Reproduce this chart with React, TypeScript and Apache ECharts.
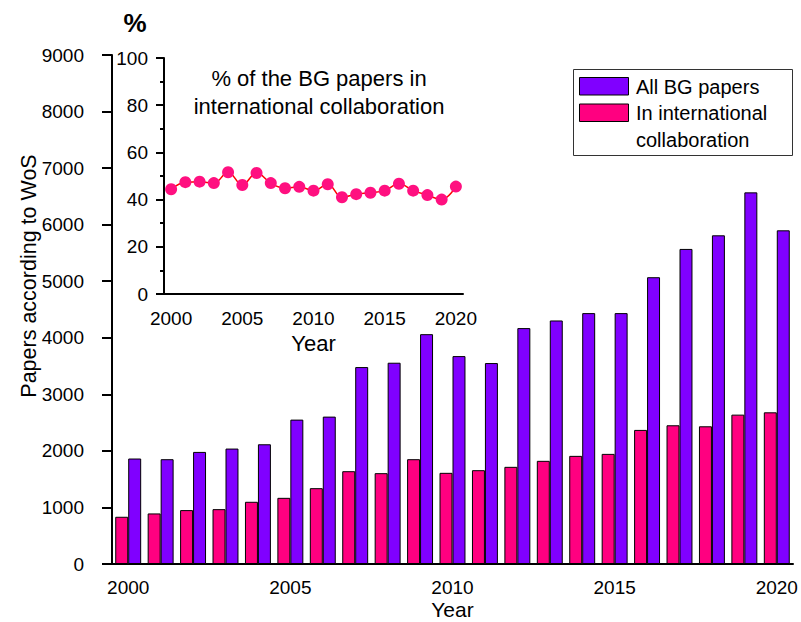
import React, { useEffect, useRef } from "react";
import * as echarts from "echarts";

const years = ["2000","2001","2002","2003","2004","2005","2006","2007","2008","2009","2010","2011","2012","2013","2014","2015","2016","2017","2018","2019","2020"];
const allPapers = [1865, 1853, 1982, 2041, 2117, 2553, 2606, 3482, 3559, 4064, 3676, 3553, 4171, 4306, 4436, 4436, 5071, 5571, 5812, 6571, 5900];
const intlPapers = [835, 894, 953, 970, 1100, 1170, 1341, 1641, 1606, 1853, 1612, 1659, 1718, 1824, 1912, 1947, 2371, 2453, 2435, 2641, 2682];
const intlPercent = [44.4, 47.4, 47.6, 47.0, 51.6, 46.2, 51.3, 47.0, 44.8, 45.4, 43.8, 46.5, 41.0, 42.3, 42.9, 43.8, 46.7, 43.8, 41.9, 40.0, 45.5];
const seriesNames = ["All BG papers", "In international collaboration"];
const legendLines = ["All BG papers", "In international", "collaboration"];
const insetTitle = "% of the BG papers in\ninternational collaboration";

const PURPLE = "#8000ff";
const PINK = "#ff0080";
const FONT = "Liberation Sans, Arial, sans-serif";

export default function App() {
  const ref = useRef<HTMLDivElement>(null);
  useEffect(() => {
    if (!ref.current) return;
    const chart = echarts.init(ref.current, null, { renderer: "svg" });
    const lbl = { color: "#000", fontFamily: FONT, fontSize: 19 };
    const plain = (v: number) => String(v);
    const option: any = {
      animation: false,
      backgroundColor: "#fff",
      textStyle: { fontFamily: FONT, color: "#000" },
      grid: [
        { left: 112, top: 55, right: 8, bottom: 58, outerBoundsMode: "none", containLabel: false },
        { left: 164, top: 58, width: 299, height: 236, outerBoundsMode: "none", containLabel: false },
      ],
      xAxis: [
        {
          type: "category", gridIndex: 0, position: "bottom", data: years, boundaryGap: true,
          axisLine: { lineStyle: { color: "#000", width: 2 } },
          axisTick: { alignWithLabel: true, interval: 0, length: 5, lineStyle: { color: "#000", width: 2 } },
          axisLabel: { ...lbl, interval: 4, margin: 14 },
          splitLine: { show: false },
          name: "Year", nameLocation: "middle", nameGap: 35, nameMoveOverlap: false,
          nameTextStyle: { fontFamily: FONT, fontSize: 21, lineHeight: 21, color: "#000" },
        },
        {
          type: "category", gridIndex: 0, position: "bottom", data: years, boundaryGap: true,
          axisLine: { show: false },
          axisTick: { alignWithLabel: true, interval: 4, length: 10, lineStyle: { color: "#000", width: 2 } },
          axisLabel: { show: false },
          splitLine: { show: false },
        },
        {
          type: "category", gridIndex: 1, position: "bottom", data: years, boundaryGap: true,
          axisLine: { lineStyle: { color: "#000", width: 2 } },
          axisTick: { alignWithLabel: true, interval: 0, length: 5, lineStyle: { color: "#000", width: 2 } },
          axisLabel: { ...lbl, interval: 4, margin: 15 },
          splitLine: { show: false },
          name: "Year", nameLocation: "middle", nameGap: 38, nameMoveOverlap: false,
          nameTextStyle: { fontFamily: FONT, fontSize: 22, lineHeight: 22, color: "#000" },
        },
        {
          type: "category", gridIndex: 1, position: "bottom", data: years, boundaryGap: true,
          axisLine: { show: false },
          axisTick: { alignWithLabel: true, interval: 4, length: 8, lineStyle: { color: "#000", width: 2 } },
          axisLabel: { show: false },
          splitLine: { show: false },
        },
      ],
      yAxis: [
        {
          type: "value", gridIndex: 0, min: 0, max: 9000, interval: 1000,
          axisLine: { show: true, lineStyle: { color: "#000", width: 2 } },
          axisTick: { show: true, length: 10, lineStyle: { color: "#000", width: 2 } },
          axisLabel: { ...lbl, margin: 28, formatter: plain },
          splitLine: { show: false },
        },
        {
          type: "value", gridIndex: 1, min: 0, max: 100, interval: 20,
          axisLine: { show: true, lineStyle: { color: "#000", width: 2 } },
          axisTick: { show: true, length: 8, lineStyle: { color: "#000", width: 2 } },
          minorTick: { show: true, splitNumber: 2, length: 4, lineStyle: { color: "#000", width: 2 } },
          axisLabel: { ...lbl, margin: 16, formatter: plain },
          splitLine: { show: false },
          minorSplitLine: { show: false },
        },
      ],
      series: [
        {
          name: seriesNames[1], type: "bar", xAxisIndex: 0, yAxisIndex: 0, data: intlPapers,
          barGap: "0%", barCategoryGap: "20%",
          itemStyle: { color: PINK, borderColor: "#000", borderWidth: 1 },
        },
        {
          name: seriesNames[0], type: "bar", xAxisIndex: 0, yAxisIndex: 0, data: allPapers,
          barGap: "0%", barCategoryGap: "20%",
          itemStyle: { color: PURPLE, borderColor: "#000", borderWidth: 1 },
        },
        {
          name: "% international", type: "line", xAxisIndex: 2, yAxisIndex: 1, data: intlPercent,
          smooth: 0.4, symbol: "circle", symbolSize: 12, showAllSymbol: true,
          lineStyle: { color: "#ff0000", width: 1.5 },
          itemStyle: { color: "#ff1080" },
          z: 5,
        },
      ],
      graphic: [
        {
          type: "text", silent: true,
          x: 29, y: 276, rotation: Math.PI / 2,
          style: { text: "Papers according to WoS", fontFamily: FONT, fontSize: 21.5, fill: "#000", textAlign: "center", textVerticalAlign: "middle" },
        },
        {
          type: "text", x: 135, y: 23, silent: true,
          style: { text: "%", fontFamily: FONT, fontSize: 26, fontWeight: "bold", fill: "#000", textAlign: "center", textVerticalAlign: "middle" },
        },
        {
          type: "text", x: 319, y: 92, silent: true,
          style: { text: insetTitle, fontFamily: FONT, fontSize: 22, lineHeight: 28, fill: "#000", textAlign: "center", textVerticalAlign: "middle" },
        },
        {
          type: "rect", silent: true,
          shape: { x: 573.5, y: 69.5, width: 219, height: 86 },
          style: { fill: "#fff", stroke: "#333", lineWidth: 1 },
        },
        {
          type: "rect", silent: true,
          shape: { x: 579.5, y: 77.5, width: 49, height: 17.5 },
          style: { fill: PURPLE, stroke: "#000", lineWidth: 1 },
        },
        {
          type: "rect", silent: true,
          shape: { x: 579.5, y: 104, width: 49, height: 17.5 },
          style: { fill: PINK, stroke: "#000", lineWidth: 1 },
        },
        {
          type: "text", x: 636, y: 86.5, silent: true,
          style: { text: legendLines[0], fontFamily: FONT, fontSize: 20, fill: "#000", textAlign: "left", textVerticalAlign: "middle" },
        },
        {
          type: "text", x: 636, y: 113, silent: true,
          style: { text: legendLines[1], fontFamily: FONT, fontSize: 20, fill: "#000", textAlign: "left", textVerticalAlign: "middle" },
        },
        {
          type: "text", x: 636, y: 140, silent: true,
          style: { text: legendLines[2], fontFamily: FONT, fontSize: 20, fill: "#000", textAlign: "left", textVerticalAlign: "middle" },
        },
      ],
    };
    chart.setOption(option);
    return () => chart.dispose();
  }, []);
  return <div ref={ref} style={{ position: "fixed", left: 0, top: 0, width: 801, height: 622 }} />;
}
